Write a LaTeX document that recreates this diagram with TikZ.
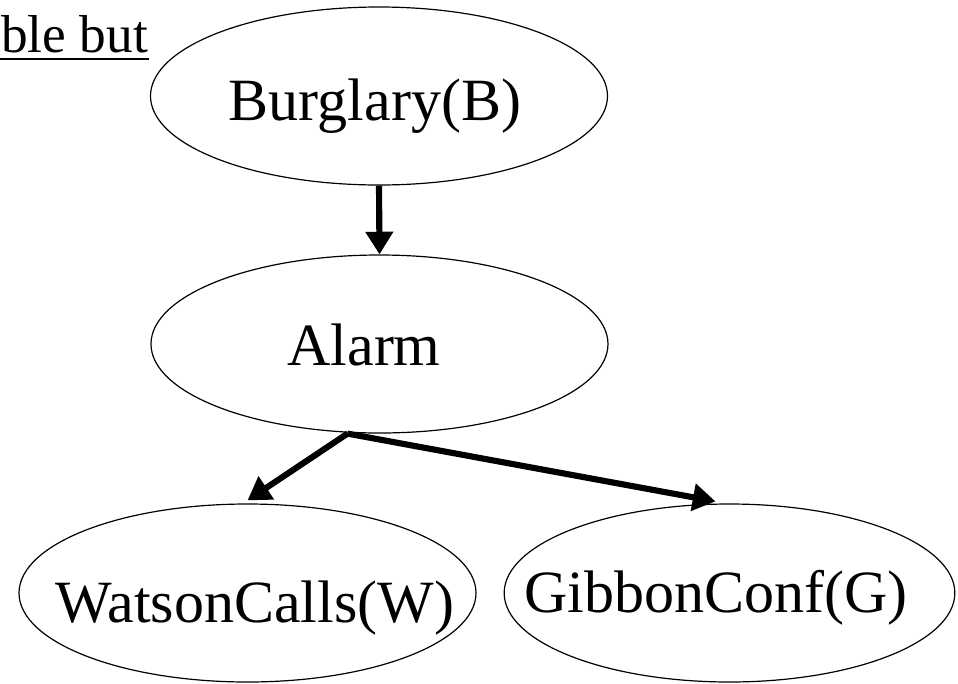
\documentclass[tikz,border=0pt]{standalone}
\usepackage{fontspec}
\setmainfont{Liberation Serif}
\usetikzlibrary{shapes.geometric,arrows.meta,calc}
\begin{document}
\begin{tikzpicture}[x=0.75pt,y=-0.75pt,
  oval/.style={draw,ellipse,line width=0.9pt,minimum width=342.75pt,minimum height=133.5pt,inner sep=0pt},
  lbl/.style={anchor=base,inner sep=0pt,font=\fontsize{45}{50}\selectfont},
  link/.style={line width=4.6pt,-{Triangle[width=20pt,length=17pt]}}]
\useasboundingbox (0,0) rectangle (958,683);
\node[oval] (B) at (379,96) {};
\node[oval] (A) at (379.5,344) {};
\node[oval] (W) at (247.5,593) {};
\node[oval,minimum width=338pt] (G) at (729.5,593) {};
\node[lbl] (tB) at (375,120) {Burglary(B)};
\node[lbl] (tA) at (364,365) {Alarm};
\node[lbl] (tW) at (255,622) {WatsonCalls(W)};
\node[lbl] (tG) at (716,612) {GibbonConf(G)};
\node[anchor=base west,inner sep=0pt,font=\fontsize{40}{45}\selectfont] (t) at (1,52) {ble but};
\draw[line width=1.3pt] ($(t.base west)+(-1,7)$) -- ($(t.base east)+(1,7)$);
\coordinate (As) at ($(A.south)+(-32,0)$);
\draw[link] (B.south) -- (A.north);
\draw[link] (As) -- ($(W.north)+(0,-3)$);
\draw[link] (As) -- ($(G.north)+(-14,-2)$);
\end{tikzpicture}
\end{document}
